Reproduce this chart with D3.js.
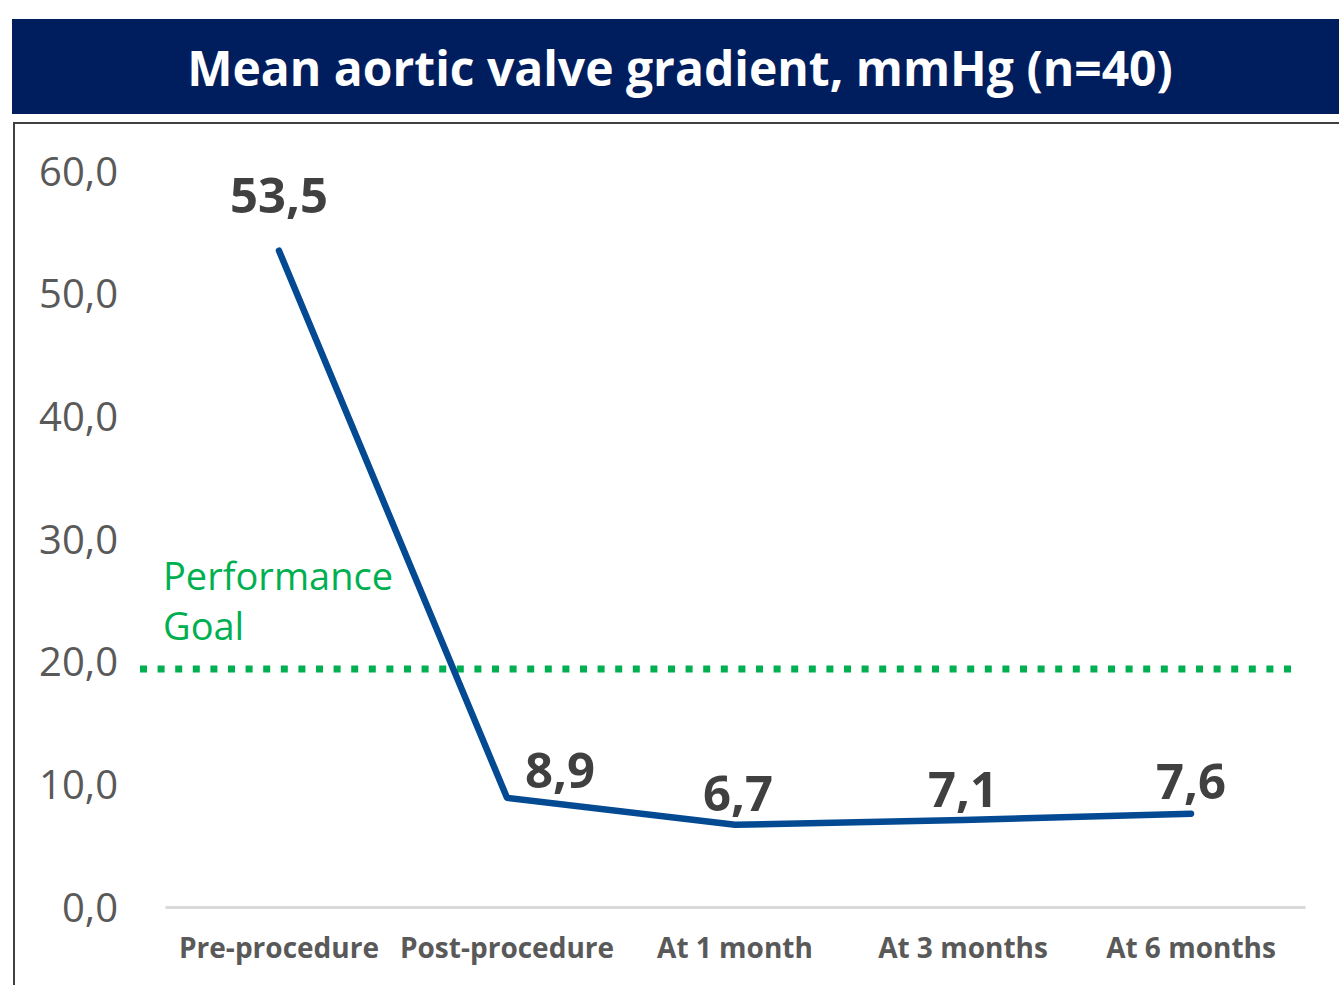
<!DOCTYPE html>
<html><head><meta charset="utf-8">
<script src="https://cdn.jsdelivr.net/npm/d3@7"></script>
<style>
html,body{margin:0;padding:0;background:#fff;}
svg{display:block;}
</style></head>
<body>
<div id="chart"></div>
<script>
const title = "Mean aortic valve gradient, mmHg (n=40)";
const categories = ["Pre-procedure","Post-procedure","At 1 month","At 3 months","At 6 months"];
const values = [53.5, 8.9, 6.7, 7.1, 7.6];
const yTicks = [0,10,20,30,40,50,60];
const goalValue = 19.4;
const goalLabel = ["Performance","Goal"];

const W = 1339, H = 985;
const svg = d3.select("#chart").append("svg").attr("width",W).attr("height",H);
const fontFam = "'Open Sans', 'Noto Sans', sans-serif";

// title bar
svg.append("rect").attr("x",12).attr("y",19).attr("width",W-12).attr("height",95).attr("fill","#001e5e");
svg.append("text").attr("x",680).attr("y",67).attr("text-anchor","middle").attr("dominant-baseline","central")
  .attr("fill","#fff").attr("font-family",fontFam).attr("font-weight",700).attr("font-size",48).text(title);

// chart box border
svg.append("path").attr("d",`M14,${H} L14,123 L${W},123`).attr("fill","none").attr("stroke","#404040").attr("stroke-width",2);

const x = d3.scaleBand().domain(categories).range([165,1305]);
const y = d3.scaleLinear().domain([0,60]).range([907,171]);

// y axis labels
const yAxis = d3.axisLeft(y).tickValues(yTicks).tickSize(0).tickPadding(0)
  .tickFormat(d => d3.format(".1f")(d).replace(".",","));
const gy = svg.append("g").attr("transform","translate(118,0)").call(yAxis);
gy.select(".domain").remove();
gy.selectAll("text").attr("font-family",fontFam).attr("font-size",40).attr("fill","#595959").attr("dy","0.35em");

// x axis
const xAxis = d3.axisBottom(x).tickSize(0).tickPadding(0);
const gx = svg.append("g").attr("transform",`translate(0,${y(0)})`).call(xAxis);
gx.select(".domain").attr("stroke","#d9d9d9").attr("stroke-width",3);
gx.selectAll("text").attr("font-family",fontFam).attr("font-weight",700).attr("font-size",28).attr("fill","#595959")
  .attr("y",41).attr("dy","0.35em");

// goal line
svg.append("line").attr("x1",140).attr("x2",1292).attr("y1",y(goalValue)).attr("y2",y(goalValue))
  .attr("stroke","#00b050").attr("stroke-width",7).attr("stroke-dasharray","7,10.6");
svg.append("text").attr("x",163).attr("y",575).attr("fill","#00b050").attr("font-family",fontFam).attr("font-size",38)
  .attr("dominant-baseline","central")
  .selectAll("tspan").data(goalLabel).join("tspan").attr("x",163).attr("dy",(d,i)=>i?50:0).text(d=>d);

// line
const cx = d => x(d) + x.bandwidth()/2;
const line = d3.line().x((d,i)=>cx(categories[i])).y(d=>y(d));
svg.append("path").datum(values).attr("d",line).attr("fill","none").attr("stroke","#044a93")
  .attr("stroke-width",6.5).attr("stroke-linecap","round").attr("stroke-linejoin","round");

// data labels
const labelDx = [0, 53, 3, 0, 0];
const labelDy = [-57, -29, -33, -32, -34];
svg.selectAll(".dl").data(values).join("text").attr("class","dl")
  .attr("x",(d,i)=>cx(categories[i])+labelDx[i]).attr("y",(d,i)=>y(d)+labelDy[i])
  .attr("text-anchor","middle").attr("dominant-baseline","central")
  .attr("font-family",fontFam).attr("font-weight",700).attr("font-size",49).attr("fill","#404040")
  .text(d=>d3.format(".1f")(d).replace(".",","));
</script>
</body></html>
